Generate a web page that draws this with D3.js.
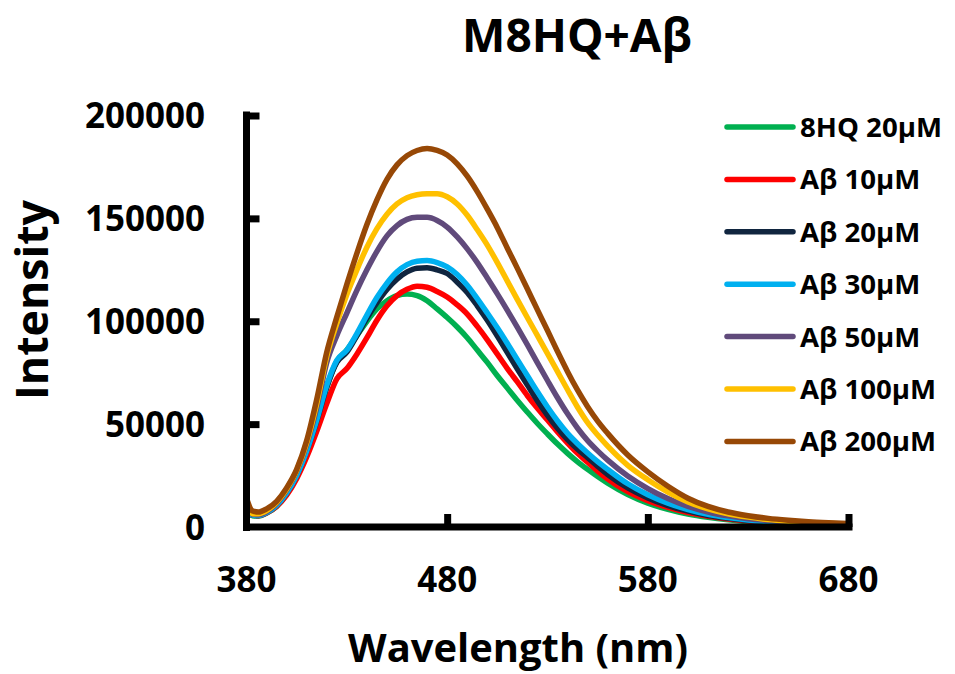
<!DOCTYPE html>
<html><head><meta charset="utf-8">
<script src="https://cdn.jsdelivr.net/npm/d3@7"></script>
<style>
body{margin:0;background:#fff}
text{font-family:"Open Sans",sans-serif;font-weight:700;fill:#000}
</style>
</head><body>
<svg id="c" width="955" height="674"></svg>
<script>
const chartTitle = "M8HQ+Aβ";
const xTitle = "Wavelength (nm)";
const yTitle = "Intensity";
const xTicks = [380, 480, 580, 680];
const yTicks = [0, 50000, 100000, 150000, 200000];

const wavelengths = [380,383,386,390,395,400,405,410,415,420,425,430,435,440,445,450,455,460,465,470,475,480,485,490,495,500,505,510,515,520,525,530,535,540,545,550,555,560,570,580,590,600,610,620,630,640,650,660,670,680];

const seriesNames = ["8HQ 20µM","Aβ 10µM","Aβ 20µM","Aβ 30µM","Aβ 50µM","Aβ 100µM","Aβ 200µM"];
const seriesColors = ["#00B050","#FF0000","#10253F","#00B0F0","#604A7B","#FFC000","#974806"];

const hq20 = [8000,5500,5300,6800,10000,16000,24500,36000,51000,68000,80500,86000,93000,100000,106000,110000,112500,113200,112500,110000,106000,101800,97200,92000,86000,80000,73500,67500,61500,55800,50300,45200,40300,35800,31700,28000,24500,21300,15800,11600,8600,6300,4700,3500,2600,2000,1500,1200,1000,800];
const ab10 = [8500,5800,5500,6800,10000,15500,23500,34000,46500,60000,72000,77000,84000,92000,100500,107500,112500,115500,117000,116500,114500,111800,108000,103500,97500,91000,84000,77000,70500,63800,57700,52000,46200,40800,35800,31500,27200,23300,17200,12800,9500,7000,5200,3900,2900,2200,1700,1400,1100,900];
const ab20 = [8500,5800,5600,7000,10500,16500,25000,37000,51500,68000,80000,85000,93000,101500,109000,115500,120500,124000,125800,126000,125000,123200,119000,114000,107500,100500,92800,84800,76800,69000,61300,54300,48000,42500,37800,33700,29500,25500,19000,14100,10400,7700,5600,4200,3100,2400,1900,1500,1200,950];
const ab30 = [8500,5800,5600,7000,10500,16500,25000,37000,52000,69000,81000,86000,94000,103000,111500,118500,124000,127500,129200,129500,128500,126400,122700,117500,111000,104000,96800,89200,81300,73500,65700,58300,51500,45500,40500,36000,31800,28000,21000,15700,11600,8500,6200,4600,3400,2600,2000,1600,1300,1000];
const ab50 = [9000,6200,6000,7500,11500,18000,27000,40000,58000,80000,93000,104000,115000,125000,134000,141500,146500,149500,150500,150500,149000,145800,141000,135200,128500,121000,113300,105300,97000,88500,79800,71200,62800,55000,48000,42000,37000,32500,24800,18700,13800,10000,7300,5400,4000,3100,2400,1900,1500,1200];
const ab100 = [10000,6500,6500,8000,12000,18500,27500,41000,60000,83000,99000,113000,125000,136000,145000,152000,157000,160000,161500,162000,162000,160500,157000,151500,144500,137000,128500,119500,110500,101700,93000,84300,75500,66700,58200,50700,44700,39300,30000,23000,17000,12200,8800,6400,4800,3600,2800,2200,1800,1400];
const ab200 = [14000,7800,7300,8800,12500,19000,28000,42000,62000,85000,102000,118000,133000,147000,159000,169000,176000,180500,183000,184000,183000,180800,176500,170500,163000,154500,145500,135500,125700,115700,105500,95500,85300,75500,66500,58500,51500,45500,35000,26800,19800,14000,10000,7300,5500,4200,3300,2600,2100,1700];

const seriesValues = [hq20, ab10, ab20, ab30, ab50, ab100, ab200];

const svg = d3.select("#c");
const x = d3.scaleLinear().domain([380, 680]).range([246.5, 848.5]);
const y = d3.scaleLinear().domain([0, 200000]).range([527, 115.5]);

function fit(sel, w) {
  const L = sel.node().getComputedTextLength();
  const fs = parseFloat(sel.attr("font-size"));
  sel.attr("font-size", fs * w / L);
  return fs * w / L;
}

// curves
const line = d3.line()
  .x((d, i) => x(wavelengths[i]))
  .y(d => y(d))
  .curve(d3.curveMonotoneX);

const g = svg.append("g");
seriesValues.forEach((vals, k) => {
  g.append("path")
    .attr("d", line(vals))
    .attr("fill", "none")
    .attr("stroke", seriesColors[k])
    .attr("stroke-width", 5.5)
    .attr("stroke-linejoin", "round")
    .attr("stroke-linecap", "butt");
});

// axes
const axisW = 7;
const yAxis = d3.axisRight(y).tickValues(yTicks.filter(v => v > 0)).tickSize(13).tickFormat("");
const yg = svg.append("g").attr("transform", `translate(${x(380)},0)`).call(yAxis);
yg.select(".domain").remove();
yg.selectAll(".tick line").attr("stroke", "#000").attr("stroke-width", axisW);

const xAxis = d3.axisTop(x).tickValues(xTicks.filter(v => v > 380)).tickSize(13).tickFormat("");
const xg = svg.append("g").attr("transform", `translate(0,${y(0)})`).call(xAxis);
xg.select(".domain").remove();
xg.selectAll(".tick line").attr("stroke", "#000").attr("stroke-width", axisW);

svg.append("line").attr("x1", x(380)).attr("x2", x(380))
  .attr("y1", y(200000) - 4).attr("y2", y(0) + 4)
  .attr("stroke", "#000").attr("stroke-width", axisW);
svg.append("line").attr("x1", x(380) - 3.5).attr("x2", x(680) + 4)
  .attr("y1", y(0)).attr("y2", y(0))
  .attr("stroke", "#000").attr("stroke-width", axisW);

// tick labels
const probe = svg.append("text").attr("font-size", 30).text("200000");
const tickFs = fit(probe, 120);
probe.remove();

svg.selectAll(".ylab").data(yTicks).enter().append("text")
  .attr("x", 205).attr("y", d => y(d)).attr("dy", "0.36em")
  .attr("text-anchor", "end").attr("font-size", tickFs)
  .text(d => d);

svg.selectAll(".xlab").data(xTicks).enter().append("text")
  .attr("x", d => x(d)).attr("y", 592)
  .attr("text-anchor", "middle").attr("font-size", tickFs)
  .text(d => d);

// titles
const t = svg.append("text").attr("x", 577).attr("y", 52).attr("text-anchor", "middle")
  .attr("font-size", 36).text(chartTitle);
fit(t, 230);

const xt = svg.append("text").attr("x", 518).attr("y", 662).attr("text-anchor", "middle")
  .attr("font-size", 36).text(xTitle);
fit(xt, 340);

const yt = svg.append("text").attr("transform", "translate(48,300) rotate(-90)")
  .attr("text-anchor", "middle").attr("font-size", 36).text(yTitle);
fit(yt, 200);

// legend
const legY0 = 127, legStep = 52.4;
const lp = svg.append("text").attr("font-size", 24).text(seriesNames[0]);
const legFs = fit(lp, 142);
lp.remove();
seriesNames.forEach((name, k) => {
  const yy = legY0 + k * legStep;
  svg.append("line").attr("x1", 727).attr("x2", 793).attr("y1", yy).attr("y2", yy)
    .attr("stroke", seriesColors[k]).attr("stroke-width", 5.5).attr("stroke-linecap", "round");
  svg.append("text").attr("x", 800).attr("y", yy).attr("dy", "0.36em")
    .attr("font-size", legFs).text(name);
});
</script>
</body></html>
